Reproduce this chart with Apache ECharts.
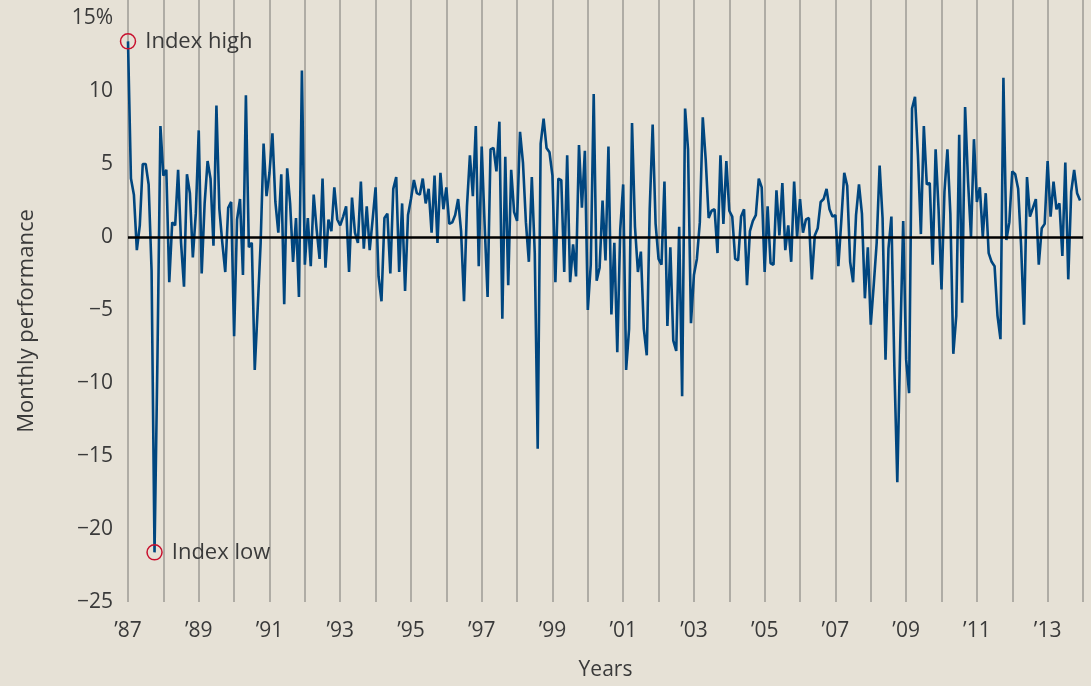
<!DOCTYPE html>
<html>
<head>
<meta charset="utf-8">
<script src="https://cdn.jsdelivr.net/npm/echarts@6/dist/echarts.min.js"></script>
<style>
html, body { margin: 0; padding: 0; background: #e6e1d6; }
#chart { width: 1091px; height: 686px; }
</style>
</head>
<body>
<div id="chart"></div>
<script>
// monthly performance in %, one row per year, Jan..Dec
var startYear = 1987;
var monthlyReturns = [
	[13.4, 4.0, 2.9, -0.9, 0.8, 5.0, 5.0, 3.6, -2.3, -21.6, -8.2, 7.6],   // 1987
	[4.2, 4.6, -3.1, 1.0, 0.8, 4.6, -0.4, -3.4, 4.3, 3.0, -1.4, 1.6],    // 1988
	[7.3, -2.5, 2.3, 5.2, 4.0, -0.6, 9.0, 1.9, -0.4, -2.4, 2.0, 2.4],    // 1989
	[-6.8, 1.2, 2.6, -2.6, 9.7, -0.7, -0.4, -9.1, -4.9, -0.4, 6.4, 2.8], // 1990
	[4.4, 7.1, 2.4, 0.3, 4.3, -4.6, 4.7, 2.3, -1.7, 1.3, -4.1, 11.4],   // 1991
	[-1.9, 1.3, -2.0, 2.9, 0.5, -1.5, 4.0, -2.1, 1.2, 0.4, 3.4, 1.2],   // 1992
	[0.8, 1.4, 2.1, -2.4, 2.7, 0.3, -0.4, 3.8, -0.8, 2.1, -0.9, 1.2],   // 1993
	[3.4, -2.7, -4.4, 1.3, 1.6, -2.5, 3.3, 4.1, -2.4, 2.3, -3.7, 1.5],  // 1994
	[2.6, 3.9, 3.0, 2.9, 4.0, 2.3, 3.3, 0.3, 4.2, -0.4, 4.4, 1.9],      // 1995
	[3.4, 0.9, 1.0, 1.5, 2.6, 0.4, -4.4, 2.1, 5.6, 2.8, 7.6, -2.0],     // 1996
	[6.2, 0.8, -4.1, 6.0, 6.1, 4.5, 7.9, -5.6, 5.5, -3.3, 4.6, 1.7],    // 1997
	[1.1, 7.2, 5.1, 1.0, -1.7, 4.1, -1.1, -14.5, 6.4, 8.1, 6.1, 5.8],   // 1998
	[4.2, -3.1, 4.0, 3.9, -2.4, 5.6, -3.1, -0.5, -2.7, 6.3, 2.0, 5.9],  // 1999
	[-5.0, -1.9, 9.8, -3.0, -2.1, 2.5, -1.6, 6.2, -5.3, -0.4, -7.9, 0.5], // 2000
	[3.6, -9.1, -6.3, 7.8, 0.7, -2.4, -1.0, -6.3, -8.1, 1.9, 7.7, 0.9], // 2001
	[-1.5, -1.9, 3.8, -6.1, -0.7, -7.1, -7.8, 0.7, -10.9, 8.8, 6.0, -5.9], // 2002
	[-2.6, -1.5, 1.0, 8.2, 5.3, 1.3, 1.8, 1.9, -1.1, 5.6, 0.9, 5.2],    // 2003
	[1.8, 1.4, -1.5, -1.6, 1.4, 1.9, -3.3, 0.4, 1.1, 1.5, 4.0, 3.4],    // 2004
	[-2.4, 2.1, -1.8, -1.9, 3.2, 0.1, 3.7, -0.9, 0.8, -1.7, 3.8, 0.0],  // 2005
	[2.6, 0.3, 1.2, 1.3, -2.9, 0.1, 0.6, 2.4, 2.6, 3.3, 1.9, 1.4],      // 2006
	[1.5, -2.0, 1.1, 4.4, 3.5, -1.7, -3.1, 1.5, 3.6, 1.6, -4.2, -0.7],  // 2007
	[-6.0, -3.3, -0.4, 4.9, 1.3, -8.4, -0.8, 1.4, -8.9, -16.8, -7.2, 1.1], // 2008
	[-8.4, -10.7, 8.8, 9.6, 5.6, 0.2, 7.6, 3.6, 3.7, -1.9, 6.0, 1.9],   // 2009
	[-3.6, 3.1, 6.0, 1.6, -8.0, -5.4, 7.0, -4.5, 8.9, 3.8, 0.0, 6.7],   // 2010
	[2.4, 3.4, 0.0, 3.0, -1.1, -1.7, -2.0, -5.4, -7.0, 10.9, -0.2, 1.0], // 2011
	[4.5, 4.3, 3.3, -0.6, -6.0, 4.1, 1.4, 2.0, 2.6, -1.9, 0.6, 0.9],    // 2012
	[5.2, 1.4, 3.8, 1.9, 2.3, -1.3, 5.1, -2.9, 3.1, 4.6, 3.0, 2.5]      // 2013
];
var yTicks = [-25, -20, -15, -10, -5, 0, 5, 10, 15];
var markNames = ['Index high', 'Index low'];

var returns = [].concat.apply([], monthlyReturns);
var lineData = returns.map(function(v, i) { return [i, v]; });

var textColor = '#3a3a3a';
var fontFamily = '"Open Sans", "Liberation Sans", sans-serif';

var chart = echarts.init(document.getElementById('chart'));
chart.setOption({
	backgroundColor: '#e6e1d6',
	animation: false,
	textStyle: { fontFamily: fontFamily },
	grid: { left: 128, right: 8, top: 0, bottom: 83 },
	xAxis: {
		type: 'value',
		min: 0,
		max: monthlyReturns.length * 12,
		interval: 12,
		name: 'Years',
		nameLocation: 'middle',
		nameGap: 58,
		nameTextStyle: { color: textColor, fontSize: 21, fontFamily: fontFamily },
		axisLine: { show: false },
		axisTick: { show: false },
		axisLabel: {
			color: textColor,
			fontSize: 21,
			margin: 19,
			formatter: function(v) {
				if (v % 24 !== 0) return '';
				var y = startYear + v / 12;
				return '\u2019' + String(y).slice(2);
			}
		},
		splitLine: { show: true, lineStyle: { color: '#9d9a94', width: 1.5 } }
	},
	yAxis: {
		type: 'value',
		min: -25,
		max: 15 + 18 / 14.6,
		interval: 5,
		axisLine: { show: false },
		axisTick: { show: false },
		splitLine: { show: false },
		axisLabel: {
			color: textColor,
			fontSize: 21,
			margin: 15,
			formatter: function(v) {
				if (yTicks.indexOf(v) < 0) return '';
				if (v === yTicks[yTicks.length - 1]) return v + '%';
				return v < 0 ? '\u2212' + Math.abs(v) : String(v);
			}
		}
	},
	graphic: [{
		type: 'text',
		x: 27,
		y: 321,
		rotation: Math.PI / 2,
		style: {
			text: 'Monthly performance',
			fill: textColor,
			font: '22px ' + fontFamily,
			textAlign: 'center',
			textVerticalAlign: 'middle'
		}
	}],
	series: [{
		type: 'line',
		data: lineData,
		symbol: 'none',
		lineStyle: { color: '#00467f', width: 2.6 },
		markLine: {
			silent: true,
			symbol: 'none',
			label: { show: false },
			lineStyle: { color: '#000', width: 2.5, type: 'solid' },
			data: [{ yAxis: 0 }]
		},
		markPoint: {
			symbol: 'circle',
			symbolSize: 15,
			itemStyle: { color: 'rgba(0,0,0,0)', borderColor: '#c8102e', borderWidth: 1.5 },
			label: {
				show: true,
				position: 'right',
				distance: 9,
				color: textColor,
				fontSize: 22,
				formatter: function(p) { return p.name; }
			},
			data: [
				{ type: 'max', valueDim: 'y', name: markNames[0] },
				{ type: 'min', valueDim: 'y', name: markNames[1] }
			]
		}
	}]
});
</script>
</body>
</html>
